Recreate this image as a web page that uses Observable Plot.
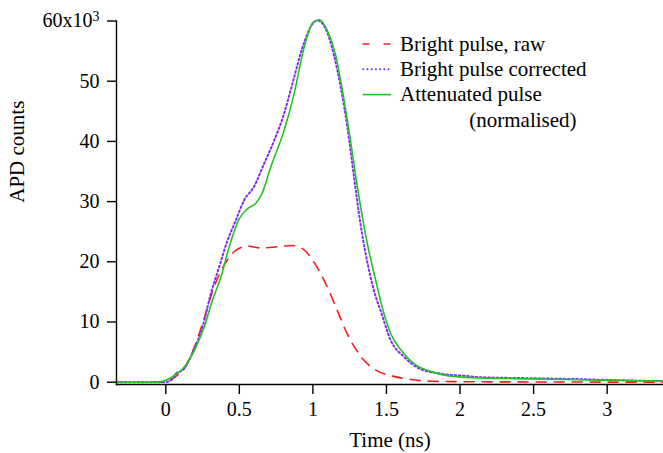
<!DOCTYPE html>
<html>
<head>
<meta charset="utf-8">
<script src="https://cdn.jsdelivr.net/npm/d3@7"></script>
<script src="https://cdn.jsdelivr.net/npm/@observablehq/plot@0.6"></script>
<style>
  html, body { margin: 0; padding: 0; background: white; }
  #chart { width: 663px; height: 453px; }
</style>
</head>
<body>
<div id="chart"></div>
<script>
// Time (ns) and APD counts (x10^3) for each series
const rawT  = [-0.335,-0.1,-0.034,0.102,0.181,0.249,0.328,0.408,0.476,0.555,0.645,0.759,0.861,0.929,1.008,1.098,1.166,1.234,1.313,1.415,1.529,1.664,1.8,2.14,2.8,3.383];
const rawY  = [0,0,0,1.7,5.0,9.7,15.8,19.9,21.9,22.6,22.3,22.5,22.7,22.2,19.9,15.8,11.9,8.0,4.7,2.2,1.1,0.45,0.17,0.07,0.03,0];

const corrT = [-0.335,-0.1,0.0,0.034,0.068,0.124,0.192,0.249,0.306,0.362,0.419,0.476,0.532,0.6,0.668,0.736,0.804,0.861,0.929,0.997,1.03,1.087,1.143,1.189,1.234,1.28,1.313,1.359,1.415,1.46,1.53,1.62,1.73,1.87,2.03,2.14,2.48,2.82,3.16,3.383];
const corrY = [0,0,0.05,0.3,1.4,2.2,5.5,9.1,14.7,19.1,23.5,26.9,30.2,32.5,36.3,40.1,44.6,49.6,55.6,59.5,60.1,58.7,54.3,49.0,42.4,34.0,28.0,21.3,15.2,11.9,6.9,4.2,2.2,1.4,1.06,0.83,0.66,0.5,0.28,0.17];

const attT  = [-0.335,-0.2,-0.1,-0.034,0.057,0.136,0.204,0.26,0.317,0.374,0.43,0.498,0.555,0.611,0.657,0.713,0.804,0.872,0.94,1.003,1.046,1.098,1.155,1.2,1.245,1.302,1.37,1.427,1.483,1.53,1.6,1.687,1.8,1.913,2.14,2.48,2.82,3.16,3.383];
const attY  = [0,0,0,0.1,1.1,2.8,5.8,9.1,13.6,17.4,22.4,27.1,28.8,29.7,31.5,35.7,41.8,47.9,55.6,59.8,60.2,58.4,54.3,48.5,41.8,32.5,23.0,16.9,11.4,8.0,5.3,3.1,1.8,1.1,0.7,0.56,0.4,0.28,0.17];

const seriesNames = ["Bright pulse, raw", "Bright pulse corrected", "Attenuated pulse"];
const xTicks = [0, 0.5, 1, 1.5, 2, 2.5, 3];
const yTicks = [0, 10, 20, 30, 40, 50, 60];
const xLabel = "Time (ns)";
const yLabel = "APD counts";

const toRows = (T, Y) => T.map((t, i) => ({t, y: Y[i]}));
const raw = toRows(rawT, rawY), corr = toRows(corrT, corrY), att = toRows(attT, attY);

const RED = "#ff1a1a", PURPLE = "#7a2cff", GREEN = "#22c422";
const FONT = "Liberation Serif, Times New Roman, serif";

const chart = Plot.plot({
  width: 663,
  height: 453,
  marginLeft: 116,
  marginRight: 0,
  marginTop: 20.5,
  marginBottom: 69,
  x: {domain: [-0.335, 3.383]},
  y: {domain: [-0.38, 60]},
  style: {fontFamily: FONT, fontSize: "20px", color: "black", background: "white", overflow: "visible"},
  marks: [
    Plot.line(raw, {x: "t", y: "y", stroke: RED, strokeWidth: 1.6, strokeDasharray: "10,8", curve: "monotone-x"}),
    Plot.line(corr, {x: "t", y: "y", stroke: PURPLE, strokeWidth: 2, strokeDasharray: "1.6,2.6", curve: "monotone-x"}),
    Plot.line(att, {x: "t", y: "y", stroke: GREEN, strokeWidth: 1.6, curve: "monotone-x"}),
    Plot.frame({anchor: "left", stroke: "black", strokeWidth: 1.4}),
    Plot.frame({anchor: "bottom", stroke: "black", strokeWidth: 1.4}),
    Plot.axisY({ticks: yTicks, tickSize: 9, tickPadding: 8, strokeWidth: 1.4, label: null,
      tickFormat: d => d === 60 ? "60x10³" : String(d)}),
    Plot.axisX({ticks: xTicks, tickSize: 10, tickPadding: 7.5, strokeWidth: 1.4, label: null,
      tickFormat: d => String(d)}),
    Plot.text([xLabel], {frameAnchor: "bottom", dy: 56, lineAnchor: "middle", fontSize: 21}),
    Plot.text([yLabel], {frameAnchor: "left", dx: -99, rotate: -90, lineAnchor: "middle", fontSize: 21})
  ]
});

// Render the top tick's exponent as a proper superscript
const svg = d3.select(chart);
svg.selectAll("text").each(function() {
  const t = d3.select(this);
  if (t.text() === "60x10³") {
    t.text("60x10");
    t.append("tspan").attr("dy", "-0.45em").attr("font-size", "14px").text("3");
  }
});

// Legend inside the plot area
const lg = svg.append("g").attr("font-family", FONT).attr("font-size", 21).attr("fill", "black")
  .attr("text-anchor", "start");
const legendItems = [
  {name: seriesNames[0], stroke: RED, dash: "7,14", width: 1.6},
  {name: seriesNames[1], stroke: PURPLE, dash: "1.6,2.6", width: 2},
  {name: seriesNames[2], stroke: GREEN, dash: null, width: 1.6}
];
legendItems.forEach((it, i) => {
  const base = 50.7 + i * 25.3;
  const ly = base - 6.7;
  const ln = lg.append("line").attr("x1", 362.5).attr("x2", 391).attr("y1", ly).attr("y2", ly)
    .attr("stroke", it.stroke).attr("stroke-width", it.width);
  if (it.dash) ln.attr("stroke-dasharray", it.dash);
  lg.append("text").attr("x", 400).attr("y", base).attr("text-anchor", "start").text(it.name);
});
lg.append("text").attr("x", 469.3).attr("y", 50.7 + 3 * 25.3).attr("text-anchor", "start").text("(normalised)");

document.getElementById("chart").appendChild(chart);
</script>
</body>
</html>
